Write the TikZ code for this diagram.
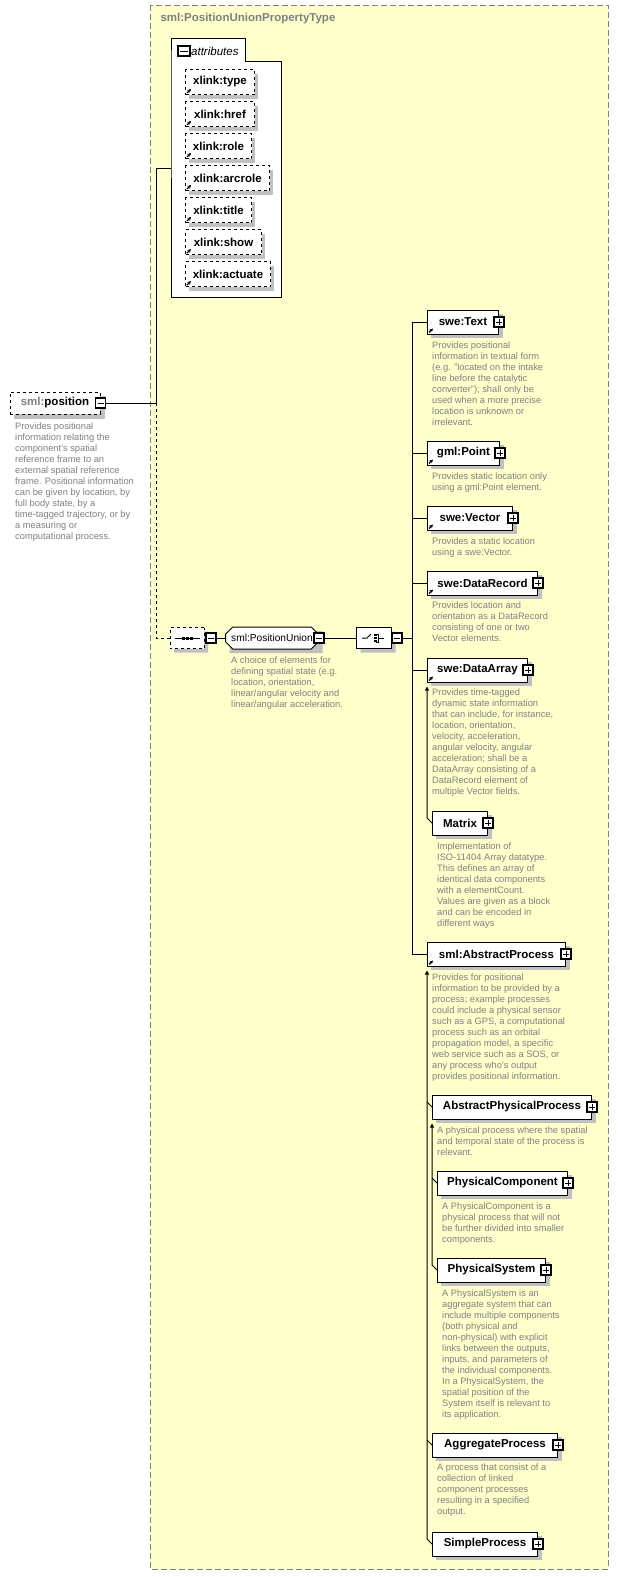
\documentclass[tikz,border=0pt]{standalone}
\usepackage{fontspec}
\setmainfont{Liberation Sans}
\usetikzlibrary{positioning, arrows.meta, calc, shapes.misc, backgrounds}
\definecolor{typebg}{RGB}{255,255,204}
\definecolor{desctext}{RGB}{128,128,128}
\definecolor{shadowgray}{RGB}{192,192,192}

\begin{document}
\begin{tikzpicture}[x=1pt, y=-1pt, >=Stealth,
    elem/.style={draw, fill=white, line width=1pt, minimum height=24pt, inner sep=0pt,
      font=\fontsize{11.5}{12}\selectfont\bfseries},
    optelem/.style={elem, dashed},
    group/.style={chamfered rectangle, chamfered rectangle xsep=5pt, draw, fill=white,
      line width=1pt, inner sep=0pt, minimum height=21pt},
    shadow/.style={fill=shadowgray, draw=none},
    desc/.style={anchor=north west, align=left, inner sep=0pt, text=desctext,
      font=\fontsize{9.3}{11}\selectfont},
    minusbox/.style={draw, fill=white, line width=1.1pt, minimum size=10pt, inner sep=0pt,
      path picture={\draw[line width=1pt] ([xshift=2pt]path picture bounding box.west)
        -- ([xshift=-2pt]path picture bounding box.east);}},
    plusbox/.style={minusbox,
      path picture={\draw[line width=1pt] ([xshift=2pt]path picture bounding box.west)
        -- ([xshift=-2pt]path picture bounding box.east)
        ([yshift=2pt]path picture bounding box.south)
        -- ([yshift=-2pt]path picture bounding box.north);}},
    refmark/.style={-{Stealth[length=3.5pt,width=3.5pt]}, line width=1.2pt},
    subst/.style={-{Triangle[length=4pt,width=4pt]}, line width=1pt},
    link/.style={line width=1pt}
  ]
  \useasboundingbox (0,0) rectangle (619,1577);

  % Tipo complesso
  \begin{scope}[on background layer]
    \draw[fill=typebg, draw=gray, dash pattern=on 6pt off 3pt, line width=1pt] (150,5) rectangle (608,1569);
  \end{scope}
  \node[anchor=west, text=desctext, font=\fontsize{11.5}{12}\selectfont\bfseries] (typename)
    at (157,19) {sml:PositionUnionPropertyType};

  % Attributi
  \draw[fill=white, line width=1pt] (171,61) -- (171,297) -- (281,297) -- (281,61)
    -- (245,61) -- (245,38) -- (171,38) -- cycle;
  \coordinate (attrs) at (171,168);
  \node[minusbox, minimum width=12pt] (attminus) at (184,51) {};
  \node[anchor=west, inner sep=0pt, font=\fontsize{11.5}{12}\selectfont\itshape] (attlabel)
    at (191,51) {attributes};
  \foreach \n/\w/\y in {type/69/82, href/69/114, role/66/146, arcrole/84/178,
      title/66/210, show/76/242, actuate/85/274} {
    \fill[shadowgray] (189,\y-8) rectangle (189+\w,\y+17);
    \node[optelem, minimum width=\w pt, minimum height=25pt, anchor=west] (att-\n)
      at (185,\y) {xlink:\n};
    \draw[refmark] ([shift={(2,-2)}]att-\n.south west) -- ++(4,-4);
  }

  % Elemento principale
  \node[optelem, minimum width=90pt, minimum height=22pt] (pos) at (55,403)
    {\textcolor{desctext}{sml:}position};
  \begin{scope}[on background layer]
    \fill[shadow] ([shift={(4,4)}]pos.north west) rectangle ([shift={(4,4)}]pos.south east);
  \end{scope}
  \node[minusbox] (posminus) at (pos.east) {};
  \node[desc] (posdesc) at (15,423) {Provides positional\\
    information relating the\\
    component's spatial\\
    reference frame to an\\
    external spatial reference\\
    frame. Positional information\\
    can be given by location, by\\
    full body state, by a\\
    time-tagged trajectory, or by\\
    a measuring or\\
    computational process.};
  \coordinate (posjoin) at (156,403);
  \draw[link] (posminus) -- (posjoin);
  \draw[link] (posjoin) |- (attrs);

  % Sequenza, gruppo e scelta
  \node[group, shadow, minimum width=34pt] at (191,642) {};
  \node[group, dashed, minimum width=34pt] (seq) at (187,638) {};
  \draw[link] ([xshift=5pt]seq.west) -- ([xshift=-5pt]seq.east);
  \foreach \dx in {-4,0,4}
    \fill ($(seq.center)+(\dx-1.5,-1.5)$) rectangle ++(3,3);
  \node[minusbox] (seqminus) at (211,638) {};
  \draw[link, dashed] (posjoin) |- (seq.west);

  \node[group, shadow, minimum width=93pt, minimum height=22pt] at (276,642) {};
  \node[group, minimum width=93pt, minimum height=22pt,
    font=\fontsize{10.2}{12}\selectfont] (punion) at (272,638) {sml:PositionUnion};
  \node[minusbox] (punionminus) at (punion.east) {};
  \draw[link] (seqminus) -- (punion.west);
  \node[desc] (puniondesc) at (231,657) {A choice of elements for\\
    defining spatial state (e.g.\\
    location, orientation,\\
    linear/angular velocity and\\
    linear/angular acceleration.};

  \node[group, shadow, minimum width=35pt] at (378,642) {};
  \node[group, minimum width=35pt] (choice) at (374,638) {};
  \draw[link] ($(choice.center)+(-12,0)$) -- ++(5,0) -- ++(4,-4);
  \foreach \dy in {-3,0,3}
    \fill ($(choice.center)+(0,\dy-1)$) rectangle ++(2.5,2);
  \draw[link] ($(choice.center)+(2,-4)$) -- ++(2,0) -- ++(0,8) -- ++(-2,0)
    ++(2,-4) -- ++(6,0);
  \node[minusbox] (choiceminus) at (397,638) {};
  \draw[link] (punionminus) -- (choice.west);
  \coordinate (chjoin) at (412,638);
  \draw[link] (choiceminus) -- (chjoin);

  % Elementi della scelta
  \foreach \n/\t/\w/\y in {swetext/swe:Text/71/322, gmlpoint/gml:Point/72/453,
      swevector/swe:Vector/85/518, datarecord/swe:DataRecord/110/583,
      dataarray/swe:DataArray/100/670, absproc/sml:AbstractProcess/138/954} {
    \fill[shadowgray] (431,\y-8) rectangle (432+\w,\y+16);
    \node[elem, minimum width=\w pt, anchor=west] (\n) at (427,\y) {\t};
    \node[plusbox] at (\n.east) {};
    \draw[refmark] ([shift={(2,-2)}]\n.south west) -- ++(4,-4);
    \draw[link] (chjoin) |- (\n.west);
  }

  % Sostituzioni
  \foreach \n/\t/\w/\x/\y in {matrix/Matrix/55/432/823,
      absphys/AbstractPhysicalProcess/159/432/1107,
      physcomp/PhysicalComponent/130/437/1183, physsys/PhysicalSystem/108/437/1270,
      aggproc/AggregateProcess/125/432/1445, simpleproc/SimpleProcess/105/432/1544} {
    \fill[shadowgray] (\x+4,\y-8) rectangle (\x+\w+5,\y+16);
    \node[elem, minimum width=\w pt, anchor=west] (\n) at (\x,\y) {\t};
    \node[plusbox] at (\n.east) {};
  }

  \draw[subst] (matrix.west) -- ++(-5,-5) -- ([yshift=-4pt]dataarray.south west);
  \draw[subst] (simpleproc.west) -- ++(-5,-5) -- ([yshift=-4pt]absproc.south west);
  \draw[link] (absphys.west) -- ++(-5,-5);
  \draw[link] (aggproc.west) -- ++(-5,-5);
  \draw[subst] (physsys.west) -- ++(-5,-5) -- ([yshift=-4pt]absphys.south west);
  \draw[link] (physcomp.west) -- ++(-5,-5);

  % Descrizioni
  \node[desc] (swetextdesc) at (432,342) {Provides positional\\
    information in textual form\\
    (e.g. "located on the intake\\
    line before the catalytic\\
    converter"); shall only be\\
    used when a more precise\\
    location is unknown or\\
    irrelevant.};
  \node[desc] (gmlpointdesc) at (432,473) {Provides static location only\\
    using a gml:Point element.};
  \node[desc] (swevectordesc) at (432,538) {Provides a static location\\
    using a swe:Vector.};
  \node[desc] (datarecorddesc) at (432,602) {Provides location and\\
    orientation as a DataRecord\\
    consisting of one or two\\
    Vector elements.};
  \node[desc] (dataarraydesc) at (432,689) {Provides time-tagged\\
    dynamic state information\\
    that can include, for instance,\\
    location, orientation,\\
    velocity, acceleration,\\
    angular velocity, angular\\
    acceleration; shall be a\\
    DataArray consisting of a\\
    DataRecord element of\\
    multiple Vector fields.};
  \node[desc] (matrixdesc) at (437,843) {Implementation of\\
    ISO-11404 Array datatype.\\
    This defines an array of\\
    identical data components\\
    with a elementCount.\\
    Values are given as a block\\
    and can be encoded in\\
    different ways};
  \node[desc] (absprocdesc) at (432,974) {Provides for positional\\
    information to be provided by a\\
    process; example processes\\
    could include a physical sensor\\
    such as a GPS, a computational\\
    process such as an orbital\\
    propagation model, a specific\\
    web service such as a SOS, or\\
    any process who's output\\
    provides positional information.};
  \node[desc] (absphysdesc) at (437,1127) {A physical process where the spatial\\
    and temporal state of the process is\\
    relevant.};
  \node[desc] (physcompdesc) at (442,1203) {A PhysicalComponent is a\\
    physical process that will not\\
    be further divided into smaller\\
    components.};
  \node[desc] (physsysdesc) at (442,1290) {A PhysicalSystem is an\\
    aggregate system that can\\
    include multiple components\\
    (both physical and\\
    non-physical) with explicit\\
    links between the outputs,\\
    inputs, and parameters of\\
    the individual components.\\
    In a PhysicalSystem, the\\
    spatial position of the\\
    System itself is relevant to\\
    its application.};
  \node[desc] (aggprocdesc) at (437,1464) {A process that consist of a\\
    collection of linked\\
    component processes\\
    resulting in a specified\\
    output.};
\end{tikzpicture}
\end{document}
